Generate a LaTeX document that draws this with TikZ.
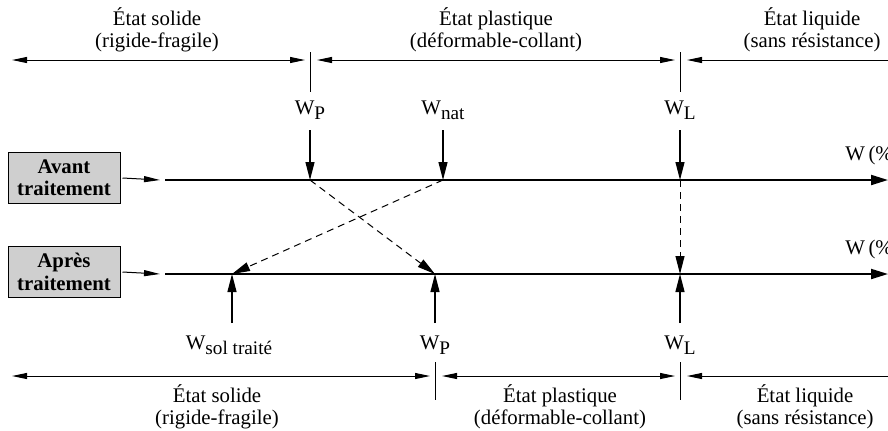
\documentclass[tikz,border=0pt]{standalone}
\usepackage{fontspec}
\setmainfont{Liberation Serif}
\usetikzlibrary{arrows.meta}
\newcommand{\wsub}[1]{W\raisebox{-2.6pt}{\fontsize{9.6}{10}\selectfont #1}}
\begin{document}
\begin{tikzpicture}[x=0.5pt,y=-0.5pt,
    every node/.style={font=\fontsize{10.4}{11.2}\selectfont, inner sep=0pt},
    state/.style={align=center},
    stage/.style={draw, line width=0.5pt, fill=black!19, minimum width=56pt, minimum height=25.5pt,
                  align=center, font=\fontsize{10.4}{11.2}\selectfont\bfseries},
    axis/.style={line width=1pt, -{Triangle[length=8.5pt,width=5pt]}},
    feed/.style={line width=0.5pt, -{Triangle[length=8pt,width=3pt]}},
    dim/.style={line width=0.5pt, {Triangle[length=7.5pt,width=3pt]}-{Triangle[length=7.5pt,width=3pt]}},
    tick/.style={line width=0.5pt},
    limarrow/.style={line width=0.6pt, -{Triangle[length=9pt,width=4.5pt]}},
    dashmove/.style={line width=0.5pt, dash pattern=on 3.5pt off 2.5pt, -{Triangle[length=9pt,width=4.5pt]}}]
\useasboundingbox (0,0) rectangle (888,430);
% states before treatment
\node [state] (solA) at (157,30) {État solide\\(rigide-fragile)};
\node [state] (plaA) at (496,30) {État plastique\\(déformable-collant)};
\node [state] (liqA) at (812,30) {État liquide\\(sans résistance)};
\coordinate (hA0) at (12,60);
\coordinate (hAP) at (310,60);
\coordinate (hAL) at (680,60);
\coordinate (hA1) at (905,60);
\draw[dim, shorten >=2.5pt] (hA0) -- (hAP);
\draw[dim, shorten <=3.5pt, shorten >=2.5pt] (hAP) -- (hAL);
\draw[dim, shorten <=3.5pt] (hAL) -- (hA1);
\draw[tick] (310,52) -- (310,92);
\draw[tick] (680,52) -- (680,92);
% limits before treatment
\node (WPa) at (310,110) {\wsub{P}};
\node (Wnat) at (443,110) {\wsub{nat}};
\node (WLa) at (680,110) {\wsub{L}};
\coordinate (aP) at (310,180);
\coordinate (aN) at (443,180);
\coordinate (aL) at (680,180);
\draw[limarrow] (310,130) -- (aP);
\draw[limarrow] (443,130) -- (aN);
\draw[limarrow] (680,130) -- (aL);
% axes
\node [stage] (avant) at (64,178) {Avant\\traitement};
\node [stage] (apres) at (64,272) {Après\\traitement};
\coordinate (a0) at (165,180);
\coordinate (a1) at (888,180);
\coordinate (b0) at (165,274);
\coordinate (b1) at (888,274);
\draw[feed] (avant.east) ++(2,0) -- (160,180);
\draw[feed] (apres.east) ++(2,0) -- (160,274);
\draw[axis] (a0) -- (a1);
\draw[axis] (b0) -- (b1);
\node [anchor=west] (Wa) at (845,155) {W\,(\%)};
\node [anchor=west] (Wb) at (845,249) {W\,(\%)};
% shifts due to treatment
\coordinate (bS) at (232,274);
\coordinate (bP) at (435,274);
\coordinate (bL) at (680,274);
\draw[dashmove] (aP) -- (bP);
\draw[dashmove] (aN) -- (bS);
\draw[dashmove] (aL) -- (bL);
% limits after treatment
\draw[limarrow] (232,323) -- (bS);
\draw[limarrow] (435,323) -- (bP);
\draw[limarrow] (680,323) -- (bL);
\node (Wsol) at (229,345) {\wsub{sol traité}};
\node (WPb) at (435,345) {\wsub{P}};
\node (WLb) at (680,345) {\wsub{L}};
% states after treatment
\coordinate (hB0) at (12,376);
\coordinate (hBP) at (435,376);
\coordinate (hBL) at (680,376);
\coordinate (hB1) at (905,376);
\draw[dim, shorten >=2.5pt] (hB0) -- (hBP);
\draw[dim, shorten <=3.5pt, shorten >=2.5pt] (hBP) -- (hBL);
\draw[dim, shorten <=3.5pt] (hBL) -- (hB1);
\draw[tick] (435,362) -- (435,400);
\draw[tick] (680,362) -- (680,400);
\node [state] (solB) at (217,407) {État solide\\(rigide-fragile)};
\node [state] (plaB) at (560,407) {État plastique\\(déformable-collant)};
\node [state] (liqB) at (805,407) {État liquide\\(sans résistance)};
\end{tikzpicture}
\end{document}
